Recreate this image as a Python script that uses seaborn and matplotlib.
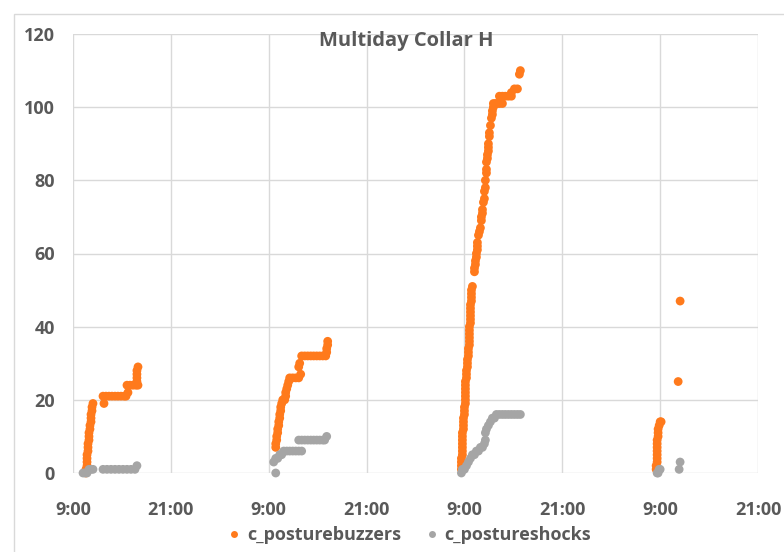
import matplotlib
matplotlib.use("Agg")
import matplotlib.pyplot as plt
import seaborn as sns
import pandas as pd
from matplotlib.patches import Rectangle
from matplotlib.lines import Line2D

# ---------------- data (hours counted from day 1 00:00) ----------------
buzzer_hours = [
    # day 1
    10.59, 10.59, 10.72, 10.72, 10.72, 10.72, 10.84, 10.84, 10.84, 10.96, 10.96, 10.96,
    11.08, 11.08, 11.21, 11.21, 11.21, 11.33, 11.33, 11.45, 12.80, 12.68, 13.04, 13.41,
    13.78, 14.15, 14.51, 14.88, 15.25, 15.50, 15.74, 15.62, 15.99, 16.35, 16.72, 16.97,
    16.84, 16.84, 16.84, 16.84, 16.97,
    # day 2
    33.86, 33.86, 33.98, 33.98, 34.10, 34.10, 34.23, 34.23, 34.35, 34.35, 34.47, 34.47,
    34.59, 34.72, 34.96, 35.08, 35.08, 35.21, 35.33, 35.45, 35.57, 35.94, 36.31, 36.68,
    36.92, 36.68, 36.80, 37.04, 37.41, 37.78, 38.15, 38.51, 38.88, 39.25, 39.62, 39.99,
    40.11, 40.11, 40.23, 40.23,
    # day 3
    56.63, 56.63, 56.63, 56.63, 56.75, 56.75, 56.75, 56.75, 56.75, 56.75, 56.75,
    56.88, 56.88, 56.88, 56.88, 57.00, 57.00, 57.00, 57.12, 57.12, 57.12, 57.12, 57.12,
    57.12, 57.12, 57.25, 57.25, 57.25, 57.37, 57.37, 57.37, 57.49, 57.49, 57.49,
    57.61, 57.61, 57.61, 57.61, 57.61, 57.61, 57.74, 57.74, 57.74, 57.74, 57.74, 57.74,
    57.86, 57.86, 57.86, 57.86, 57.98, 58.23, 58.23, 58.35, 58.35, 58.47, 58.47,
    58.59, 58.59, 58.59, 58.72, 58.84, 58.96, 59.08, 59.08, 59.21, 59.21, 59.33,
    59.45, 59.45, 59.57, 59.57, 59.70, 59.70, 59.70, 59.82, 59.82, 59.94, 59.94, 59.94,
    60.06, 60.06, 60.19, 60.31, 60.43, 60.43, 60.55, 60.55, 60.80, 61.04, 61.29, 61.66,
    61.29, 61.66, 62.02, 62.39, 62.76, 62.76, 63.13, 63.50, 63.74, 63.86,
    # day 4
    80.51, 80.51, 80.63, 80.63, 80.63, 80.63, 80.63, 80.63, 80.63, 80.75, 80.75, 80.75,
    80.88, 81.00, 81.12, 83.21, 83.45,
]
buzzer_counts = [
    # day 1
    0, 1, 2, 3, 4, 5, 6, 7, 8, 9, 10, 11,
    12, 13, 14, 15, 16, 17, 18, 19, 19, 21, 21, 21,
    21, 21, 21, 21, 21, 21, 22, 24, 24, 24, 24, 24,
    25, 26, 27, 28, 29,
    # day 2
    7, 8, 9, 10, 11, 12, 13, 14, 15, 16, 17, 18,
    19, 20, 20, 21, 22, 23, 24, 25, 26, 26, 26, 26,
    27, 29, 30, 32, 32, 32, 32, 32, 32, 32, 32, 32,
    33, 34, 35, 36,
    # day 3
    1, 2, 3, 4, 5, 6, 7, 8, 9, 10, 11,
    12, 13, 14, 15, 16, 17, 18, 19, 20, 21, 22, 23,
    24, 25, 26, 27, 28, 29, 30, 31, 32, 33, 34,
    35, 36, 37, 38, 39, 40, 41, 42, 43, 44, 45, 46,
    47, 48, 49, 50, 51, 55, 56, 57, 58, 59, 60,
    61, 62, 63, 65, 66, 67, 69, 70, 71, 72, 74,
    75, 77, 78, 80, 82, 83, 85, 86, 87, 88, 89, 90,
    92, 93, 95, 97, 98, 99, 100, 101, 101, 101, 101, 101,
    103, 103, 103, 103, 103, 104, 105, 105, 109, 110,
    # day 4
    1, 2, 3, 4, 5, 6, 7, 8, 9, 10, 11, 12,
    13, 14, 14, 25, 47,
]

shock_hours = [
    # day 1
    10.23, 10.47, 10.72, 10.96, 11.21, 11.45, 12.68, 13.17, 13.66, 14.15, 14.64, 15.13,
    15.62, 16.11, 16.60, 16.84,
    # day 2
    33.86, 33.61, 33.86, 34.10, 34.35, 34.59, 34.84, 35.21, 35.57, 35.94, 36.31, 36.68,
    37.04, 36.68, 37.04, 37.41, 37.78, 38.15, 38.51, 38.88, 39.25, 39.62, 39.86, 40.11,
    # day 3
    56.63, 56.75, 57.00, 57.25, 57.49, 57.74, 57.98, 58.23, 58.47, 58.72, 58.96, 59.21,
    59.45, 59.57, 59.57, 59.70, 59.94, 60.19, 60.43, 60.68, 60.92, 61.29, 61.66, 62.02,
    62.39, 62.76, 63.13, 63.50, 63.86,
    # day 4
    80.63, 80.75, 80.88, 81.00, 83.33, 83.45,
]
shock_counts = [
    # day 1
    0, 0, 0, 1, 1, 1, 1, 1, 1, 1, 1, 1,
    1, 1, 1, 2,
    # day 2
    0, 3, 4, 4, 5, 5, 6, 6, 6, 6, 6, 6,
    6, 9, 9, 9, 9, 9, 9, 9, 9, 9, 9, 10,
    # day 3
    0, 1, 1, 2, 3, 4, 5, 5, 6, 6, 7, 7,
    8, 9, 11, 12, 13, 14, 15, 15, 16, 16, 16, 16,
    16, 16, 16, 16, 16,
    # day 4
    0, 0, 1, 1, 1, 3,
]

series_names = ["c_posturebuzzers", "c_postureshocks"]
series_colors = ["#FF7A1C", "#A5A5A5"]
x_tick_hours = [9, 21, 33, 45, 57, 69, 81, 93]
x_tick_labels = ["9:00", "21:00", "9:00", "21:00", "9:00", "21:00", "9:00", "21:00"]
y_ticks = [0, 20, 40, 60, 80, 100, 120]
title = "Multiday Collar H"

# ---------------- build frame ----------------
df = pd.DataFrame({
    "hours": buzzer_hours + shock_hours,
    "count": buzzer_counts + shock_counts,
    "series": [series_names[0]] * len(buzzer_hours) + [series_names[1]] * len(shock_hours),
})

sns.set_theme(style="white")
plt.rcParams['font.family'] = ['Open Sans', 'DejaVu Sans']

TXT = "#595959"
GRID = "#D9D9D9"

fig = plt.figure(figsize=(7.84, 5.52), dpi=100)
ax = fig.add_axes([73 / 784, 1 - 473 / 552, 685 / 784, 439 / 552])

sns.scatterplot(data=df, x="hours", y="count", hue="series",
                palette=dict(zip(series_names, series_colors)),
                s=40, linewidth=0, ax=ax, legend=False, zorder=3)
for coll in ax.collections:
    coll.set_clip_on(False)

ax.set_xlim(x_tick_hours[0], x_tick_hours[-1])
ax.set_ylim(y_ticks[0], y_ticks[-1])
ax.set_xticks(x_tick_hours)
ax.set_xticklabels(x_tick_labels)
ax.set_yticks(y_ticks)
ax.set_xlabel("")
ax.set_ylabel("")
ax.set_axisbelow(True)
ax.grid(True, color=GRID, linewidth=1)
for sp in ax.spines.values():
    sp.set_visible(False)
ax.tick_params(length=0, labelsize=13, labelcolor=TXT)
ax.tick_params(axis="y", pad=13)
ax.tick_params(axis="x", pad=20)
for lab in ax.get_xticklabels() + ax.get_yticklabels():
    lab.set_fontweight("bold")

fig.text(406 / 784, 1 - 41 / 552, title, ha="center", va="center",
         fontsize=14.5, fontweight="bold", color=TXT)

handles = [Line2D([], [], marker="o", linestyle="", markersize=5,
                  markerfacecolor=c, markeredgewidth=0, label=n)
           for n, c in zip(series_names, series_colors)]
fig.legend(handles=handles, loc="center", bbox_to_anchor=(409 / 784, 1 - 535 / 552),
           ncol=2, frameon=False, prop={"weight": "bold", "size": 13},
           labelcolor=TXT, handletextpad=0.3, columnspacing=1.3, handlelength=0.8)

fig.patches.append(Rectangle((14 / 784, -0.1), 1.0, (552 - 14) / 552 + 0.1,
                             transform=fig.transFigure, fill=False,
                             edgecolor=GRID, linewidth=1))

fig.savefig("out.png", dpi=100)
